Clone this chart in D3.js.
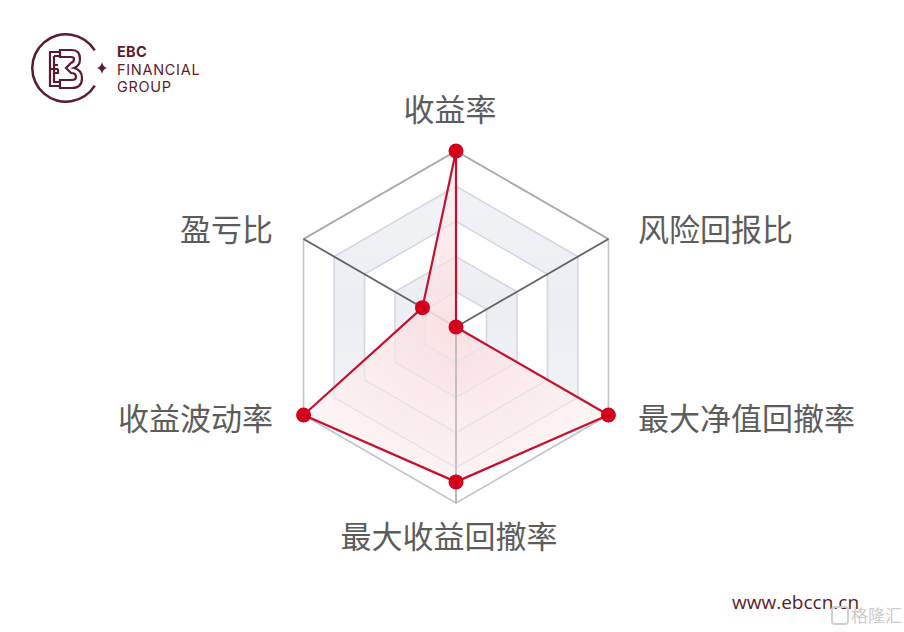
<!DOCTYPE html>
<html><head><meta charset="utf-8">
<script src="https://cdn.jsdelivr.net/npm/d3@7"></script>
<style>body{margin:0;background:#fff}svg{display:block}</style>
</head><body>
<svg id="c" width="904" height="632"></svg>
<script>
const axesLabels = ["收益率","风险回报比","最大净值回撤率","最大收益回撤率","收益波动率","盈亏比"];
const seriesValues = [1.0, 0.0, 1.0, 0.88, 1.0, 0.22];
const gridLevels = [0.2, 0.4, 0.6, 0.8, 1.0];
const brandLines = ["EBC","FINANCIAL","GROUP"];
const footerText = "www.ebccn.cn";
const watermarkText = "格隆汇";

const svg = d3.select("#c");
const cx = 456, cy = 327, R = 176;
const maroon = "#5b1b2c";
const fontCJK = "'Noto Sans CJK SC','Noto Sans',sans-serif";

const rScale = d3.scaleLinear().domain([0, 1]).range([0, R]);
const aScale = d3.scaleLinear().domain([0, axesLabels.length]).range([0, 2 * Math.PI]);
const pt = (i, v) => [cx + rScale(v) * Math.sin(aScale(i)), cy - rScale(v) * Math.cos(aScale(i))];
const ringPts = v => axesLabels.map((_, i) => pt(i, v));
const line = d3.line().curve(d3.curveLinearClosed);

const defs = svg.append("defs");
const rg = defs.append("radialGradient").attr("id","redFill")
  .attr("gradientUnits","userSpaceOnUse").attr("cx",cx).attr("cy",cy).attr("r",R);
rg.append("stop").attr("offset","0%").attr("stop-color","#f9dde0");
rg.append("stop").attr("offset","100%").attr("stop-color","#fdf5f5");
const bg = defs.append("linearGradient").attr("id","bandFill")
  .attr("gradientUnits","userSpaceOnUse").attr("x1",0).attr("y1",cy - R).attr("x2",0).attr("y2",cy + R);
bg.append("stop").attr("offset","0%").attr("stop-color","#f3f4f7");
bg.append("stop").attr("offset","45%").attr("stop-color","#eceef3");
bg.append("stop").attr("offset","100%").attr("stop-color","#f7f7f9");

const g = svg.append("g");
gridLevels.forEach((lv, k) => {
  if (k % 2 === 1) {
    const outerP = ringPts(lv), innerP = ringPts(gridLevels[k-1]).reverse();
    g.append("path").attr("d", line(outerP) + " " + line(innerP))
      .attr("fill-rule","evenodd").attr("fill","url(#bandFill)");
  }
});
gridLevels.forEach((lv, k) => {
  g.append("path").attr("d", line(ringPts(lv))).attr("fill","none")
    .attr("stroke", k === gridLevels.length - 1 ? "#c2c5cc" : "#d3d7e0").attr("stroke-width", 1.6);
});
const outer = ringPts(1);
g.append("path").attr("d", d3.line()([outer[5], outer[0], outer[1]]))
  .attr("fill","none").attr("stroke","#a9aaaf").attr("stroke-width",1.6);
axesLabels.forEach((_, i) => {
  const a = aScale(i);
  const upper = Math.cos(a) > 0.1;
  const bottom = Math.cos(a) < -0.9;
  if (!upper && !bottom) return;
  const [x, y] = pt(i, 1);
  g.append("line").attr("x1",cx).attr("y1",cy).attr("x2",x).attr("y2",y)
    .attr("stroke", bottom ? "#a8a8ad" : "#626262").attr("stroke-width", bottom ? 1.5 : 1.8);
});

// series
const sp = seriesValues.map((v, i) => pt(i, v));
g.append("path").attr("d", line(sp)).attr("fill","url(#redFill)").attr("fill-opacity",0.88)
  .attr("stroke","none");
// faint grid showing through the fill
gridLevels.slice(0, -1).forEach(lv => {
  g.append("path").attr("d", line(ringPts(lv))).attr("fill","none")
    .attr("stroke","#e6e3e8").attr("stroke-width",1.4)
    .attr("clip-path","url(#seriesClip)");
});
defs.append("clipPath").attr("id","seriesClip").append("path").attr("d", line(sp));
g.append("line").attr("x1",cx).attr("y1",cy).attr("x2",pt(3,1)[0]).attr("y2",pt(3,1)[1])
  .attr("stroke","#b4b4b8").attr("stroke-width",1.5);
g.append("path").attr("d", line(sp)).attr("fill","none")
  .attr("stroke","#c8102e").attr("stroke-width",2.2).attr("stroke-linejoin","round");
g.selectAll("circle.p").data(sp).enter().append("circle")
  .attr("cx", d => d[0]).attr("cy", d => d[1]).attr("r", 7.5).attr("fill","#d2001c");

// labels
const labelPos = [
  {x: 450, y: 121, a: "middle"},
  {x: 638, y: 241, a: "start"},
  {x: 638, y: 430, a: "start"},
  {x: 449, y: 548, a: "middle"},
  {x: 273, y: 430, a: "end"},
  {x: 273, y: 241, a: "end"}
];
axesLabels.forEach((t, i) => {
  svg.append("text").attr("x", labelPos[i].x).attr("y", labelPos[i].y)
    .attr("text-anchor", labelPos[i].a).attr("font-family", fontCJK)
    .attr("font-size", 31).attr("fill", "#5c5c5c").text(t);
});

// logo
const lg = svg.append("g").attr("fill","none").attr("stroke",maroon).attr("stroke-width",2.2);
lg.append("path").attr("d", d3.arc()({innerRadius:32.5,outerRadius:35,startAngle:Math.PI*0.5+0.55,endAngle:Math.PI*2.5-0.55}))
  .attr("transform","translate(66,68)").attr("fill",maroon).attr("stroke","none");
lg.append("path").attr("d","M60 52 H50 V86 H60 M50 69 H58 M54 56 H60 M54 56 V82 H60 M54 65 H58 M54 73 H58 V69");
lg.append("path").attr("d","M60 50 H72 Q80 50 80 59 Q80 66 74 68 Q82 70 82 78 Q82 88 72 88 H60 V80 H72 Q76 80 76 77 Q76 73 71 73 L66 68 L71 63 Q74 62 74 59 Q74 57 71 57 H60 Z");
svg.append("path").attr("d","M102 62 Q103 67 107 68 Q103 69 102 74 Q101 69 97 68 Q101 67 102 62 Z").attr("fill",maroon);
brandLines.forEach((t, i) => {
  svg.append("text").attr("x", 117).attr("y", [57, 75, 92][i])
    .attr("font-family","Inter,'Open Sans',sans-serif").attr("font-size",14.5)
    .attr("letter-spacing", i === 0 ? 0.3 : 0.7)
    .attr("font-weight", i === 0 ? 700 : 400).attr("fill", maroon).text(t);
});

// footer
svg.append("text").attr("x", 732).attr("y", 609).attr("font-family","'Open Sans','DejaVu Sans',sans-serif")
  .attr("font-size", 19).attr("fill", maroon).text(footerText);
svg.append("rect").attr("x",832).attr("y",607).attr("width",16).attr("height",17).attr("rx",3)
  .attr("fill","none").attr("stroke","#cfcfcf").attr("stroke-width",2);
svg.append("text").attr("x", 851).attr("y", 622).attr("font-family", fontCJK)
  .attr("font-size", 17).attr("fill", "#cccccc").text(watermarkText);
</script>
</body></html>
